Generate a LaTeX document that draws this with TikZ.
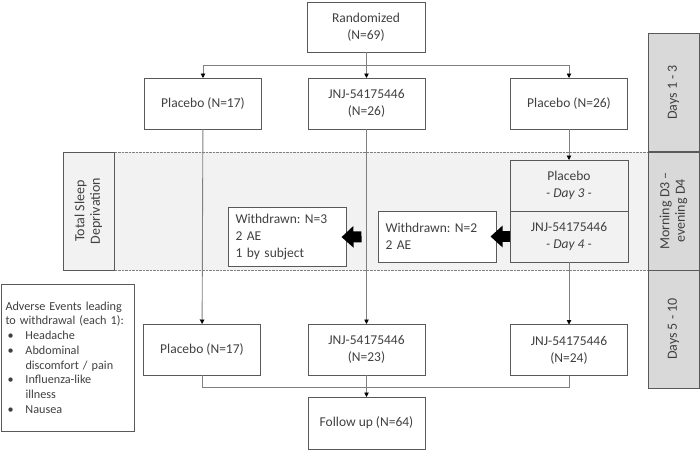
\documentclass[tikz,border=0pt]{standalone}
\usepackage{fontspec}
\setmainfont{Carlito}
\usetikzlibrary{arrows.meta,positioning}
\definecolor{txtgray}{HTML}{404040}
\definecolor{linegray}{HTML}{808080}
\definecolor{boxgray}{HTML}{595959}
\definecolor{bandgray}{HTML}{F2F2F2}
\definecolor{periodgray}{HTML}{D9D9D9}
\tikzset{
  basic/.style  = {draw=boxgray, line width=0.9pt, fill=white, text=txtgray,
                   outer sep=0pt, font=\fontsize{13.5}{17}\selectfont},
  arm/.style    = {basic, align=center, minimum width=117pt, minimum height=51pt},
  withdrawn/.style = {basic, align=left, text width=104pt, inner sep=7pt,
                   minimum height=51pt},
  period/.style = {basic, fill=periodgray, rotate=90, align=center,
                   minimum width=118pt, minimum height=51pt,
                   font=\fontsize{14}{15.5}\selectfont},
  flow/.style   = {draw=linegray, line width=0.9pt},
  bigarrow/.style = {draw=black, line width=11pt,
                   -{Triangle[length=12pt,width=21pt]}}
}

\begin{document}
\frenchspacing
\begin{tikzpicture}[x=1pt, y=-1pt,
		>={Triangle[length=4.5pt,width=4.5pt,color=black]}]
	  \useasboundingbox (0,0) rectangle (700,450);

	  % shaded band of the sleep deprivation period
	  \fill[bandgray] (63,152) rectangle (648,270);
	  \draw[linegray, densely dotted] (63,152) -- (648,152);
	  \draw[linegray, densely dotted] (63,270) -- (648,270);
	  \node[period, fill=bandgray] (tsd) at (88.5,211) {Total Sleep\\Deprivation};

	  % periods on the right
	  \node[period] (p1) at (673.5,92.5) {Days 1 - 3};
	  \node[period] (p2) at (673.5,211) {Morning D3 –\\evening D4};
	  \node[period] (p3) at (673.5,329) {Days 5 - 10};

	  % randomization and the first level
	  \node[arm, minimum width=118pt, minimum height=50pt] (rand) at (366,27)
	    {Randomized\\(N=69)};
	  \node[arm] (pla17) at (203,103.5) {Placebo (N=17)};
	  \node[arm] (jnj26) at (366.5,103.5) {JNJ-54175446\\(N=26)};
	  \node[arm] (pla26) at (569,103.5) {Placebo (N=26)};

	  % crossover arm, relatively positioned halves
	  \node[arm, fill=bandgray, minimum width=118pt]
	    (day3) at (569,185.5) {Placebo\\\textit{- Day 3 -}};
	  \node[arm, fill=bandgray, minimum width=118pt,
	    below=0pt of day3] (day4) {JNJ-54175446\\\textit{- Day 4 -}};

	  % withdrawals
	  \node[withdrawn] (wd2) at (437.5,236.5) {Withdrawn: N=2\\2 AE};
	  \node[withdrawn] (wd3) at (287.5,237) {Withdrawn: N=3\\2 AE\\1 by subject};

	  % second level and follow up
	  \node[arm] (pla17b) at (202,349.5) {Placebo (N=17)};
	  \node[arm] (jnj23) at (366.5,349.5) {JNJ-54175446\\(N=23)};
	  \node[arm] (jnj24) at (569,350) {JNJ-54175446\\(N=24)};
	  \node[arm, minimum height=52pt, below=22pt of jnj23] (follow)
	    {Follow up (N=64)};

	  % adverse events
	  \node[basic, align=left, text width=125pt, inner sep=4pt,
	    minimum height=147pt, font=\fontsize{12.2}{14.7}\selectfont]
	    (ae) at (68,357.5) {\makebox[123pt][s]{Adverse Events leading}\\
	    to withdrawal (each 1):\\
	    \hspace*{2pt}\makebox[18pt][l]{\textbullet}Headache\\
	    \hspace*{2pt}\makebox[18pt][l]{\textbullet}Abdominal\\
	    \hspace*{20pt}discomfort / pain\\
	    \hspace*{2pt}\makebox[18pt][l]{\textbullet}Influenza-like\\
	    \hspace*{20pt}illness\\
	    \hspace*{2pt}\makebox[18pt][l]{\textbullet}Nausea};

	  % lines from randomization to every arm
	  \foreach \arm in {pla17,jnj26,pla26}
		\draw[flow,->] (rand.south) -- ++(0,13) -| (\arm.north);

	  \draw[flow,->] (pla17) -- (pla17b);
	  \draw[flow,->] (jnj26) -- (jnj23);
	  \draw[flow,->] (pla26) -- (day3);
	  \draw[flow,->] (day4) -- (jnj24);

	  % merging into follow up
	  \draw[flow] (pla17b.south) -- ++(0,12) -| (jnj24.south);
	  \draw[flow,->] (jnj23) -- (follow);

	  % block arrows to the withdrawals
	  \draw[bigarrow, shorten >=-6pt] (day4.west) -- (wd2.east);
	  \draw[bigarrow, shorten <=17pt, shorten >=-5pt] (wd2.west) -- (wd3.east);

	  \end{tikzpicture}
\end{document}
